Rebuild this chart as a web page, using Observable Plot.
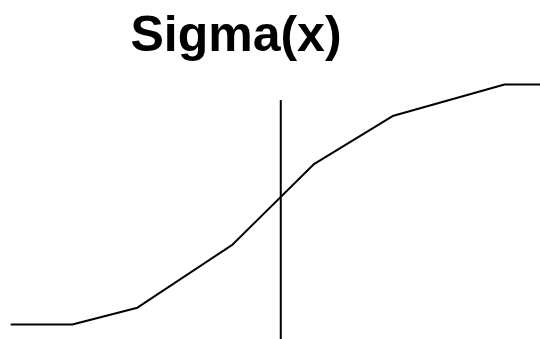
<!DOCTYPE html>
<html>
<head>
<meta charset="utf-8">
<script src="https://cdn.jsdelivr.net/npm/d3@7"></script>
<script src="https://cdn.jsdelivr.net/npm/@observablehq/plot@0.6"></script>
<style>
  html, body { margin: 0; padding: 0; background: #fff; }
  #chart { width: 540px; }
  #title {
    position: relative;
    height: 70px;
    width: 540px;
  }
  #title span {
    position: absolute;
    left: 0;
    width: 472px;
    top: 9px;
    text-align: center;
    font: bold 50px "Liberation Sans", Arial, sans-serif;
    line-height: 50px;
    color: #000;
  }
  svg { display: block; }
</style>
</head>
<body>
<div id="chart">
  <div id="title"><span>Sigma(x)</span></div>
</div>
<script>
// Sigma(x): piecewise-linear curve rising from 0 to 1
const xs = [0, 1.15, 2.38, 4.18, 5.71, 7.22, 9.32, 10];
const sigma = [0, 0, 0.07, 0.333, 0.667, 0.87, 1, 1];

// vertical marker position and its vertical extent
const markerX = [5.09];
const markerY1 = [-0.0625];
const markerY2 = [0.933];

const points = xs.map((x, i) => ({x, y: sigma[i]}));
const marker = markerX.map((x, i) => ({x, y1: markerY1[i], y2: markerY2[i]}));

const plot = Plot.plot({
  width: 540,
  height: 269,
  marginLeft: 11,
  marginRight: 0,
  marginTop: 14,
  marginBottom: 15,
  x: {domain: [0, 10], axis: null},
  y: {domain: [0, 1], axis: null},
  style: {background: "#fff"},
  marks: [
    Plot.ruleX(marker, {x: "x", y1: "y1", y2: "y2", stroke: "#000", strokeWidth: 2, clip: false}),
    Plot.line(points, {x: "x", y: "y", stroke: "#000", strokeWidth: 2})
  ]
});
document.getElementById("chart").appendChild(plot);
</script>
</body>
</html>
